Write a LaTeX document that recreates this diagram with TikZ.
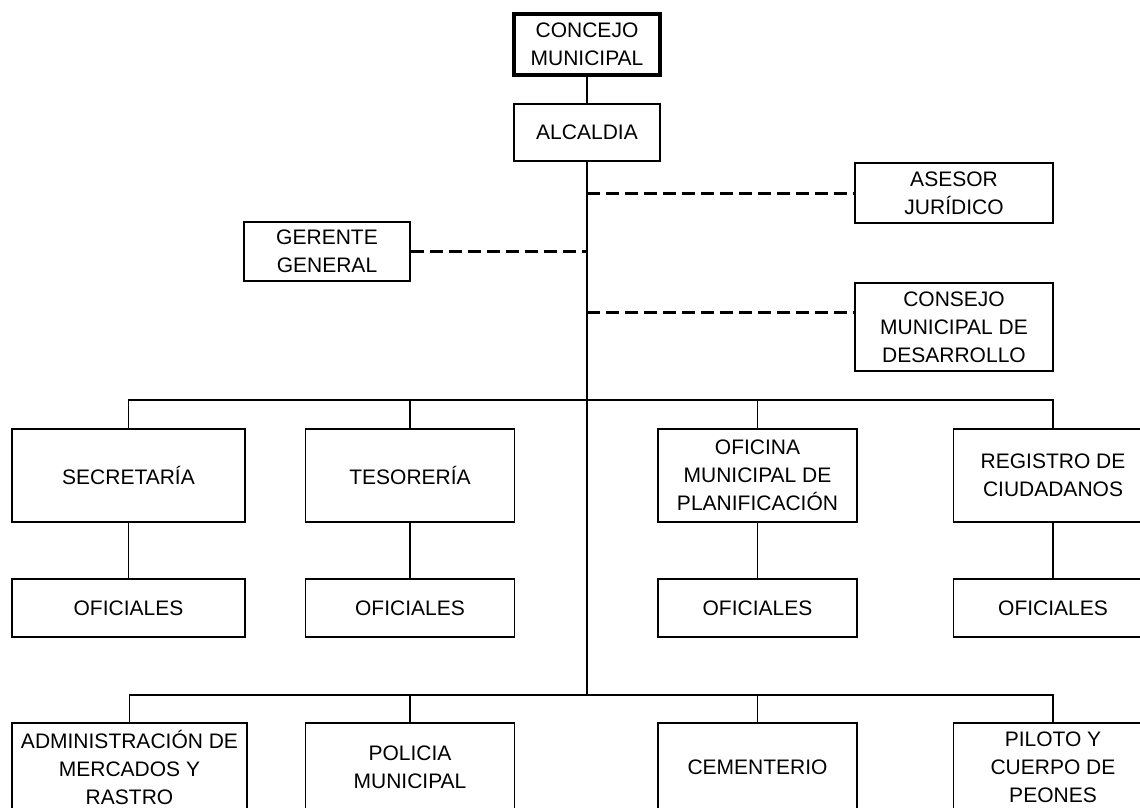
\documentclass[tikz,border=0pt]{standalone}
\usepackage{fontspec}
\setmainfont{Liberation Sans}
\usetikzlibrary{calc}

\begin{document}
\begin{tikzpicture}[x=1pt,y=-1pt,
	caja/.style={draw, line width=1.6pt, inner sep=0pt, align=center, font=\fontsize{21}{28}\selectfont},
	rama/.style={line width=1.6pt},
	asesoria/.style={line width=3pt, dash pattern=on 13pt off 6pt}]
	\pgfmathsetmacro{\eje}{587}			%x of the main trunk
	\pgfmathsetmacro{\colA}{128.5}		%columns of the departments
	\pgfmathsetmacro{\colB}{410}
	\pgfmathsetmacro{\colC}{757.5}
	\pgfmathsetmacro{\colD}{1053}
	\pgfmathsetmacro{\filaA}{475.5}		%rows
	\pgfmathsetmacro{\filaB}{608}
	\pgfmathsetmacro{\filaC}{767.5}

	\useasboundingbox (0,0) rectangle (1140,808);
	\clip (0,0) rectangle (1140,808);

	%top
	\node[caja, line width=3.5pt, minimum width=146pt, minimum height=61pt] (concejo) at (\eje,44.5) {CONCEJO\\MUNICIPAL};
	\node[caja, minimum width=146pt, minimum height=57pt] (alcaldia) at (\eje,132.5) {ALCALDIA};
	\node[caja, minimum width=198pt, minimum height=60pt] (asesor) at (954,193) {ASESOR\\JURÍDICO};
	\node[caja, minimum width=166pt, minimum height=59pt] (gerente) at (327,251.5) {GERENTE\\GENERAL};
	\node[caja, minimum width=198pt, minimum height=88pt] (consejo) at (954,327) {CONSEJO\\MUNICIPAL DE\\DESARROLLO};

	%departments
	\node[caja, minimum width=233pt, minimum height=93pt] (secretaria) at (\colA,\filaA) {SECRETARÍA};
	\node[caja, minimum width=209pt, minimum height=93pt] (tesoreria) at (\colB,\filaA) {TESORERÍA};
	\node[caja, minimum width=199pt, minimum height=93pt] (oficina) at (\colC,\filaA) {OFICINA\\MUNICIPAL DE\\PLANIFICACIÓN};
	\node[caja, minimum width=199pt, minimum height=93pt] (registro) at (\colD,\filaA) {REGISTRO DE\\CIUDADANOS};

	%oficiales
	\node[caja, minimum width=233pt, minimum height=58pt] (ofsecretaria) at (\colA,\filaB) {OFICIALES};
	\node[caja, minimum width=209pt, minimum height=58pt] (oftesoreria) at (\colB,\filaB) {OFICIALES};
	\node[caja, minimum width=199pt, minimum height=58pt] (ofoficina) at (\colC,\filaB) {OFICIALES};
	\node[caja, minimum width=199pt, minimum height=58pt] (ofregistro) at (\colD,\filaB) {OFICIALES};

	%services
	\node[caja, minimum width=235pt, minimum height=89pt] (mercados) at (129.5,\filaC) {ADMINISTRACIÓN DE\\MERCADOS Y\\RASTRO};
	\node[caja, minimum width=209pt, minimum height=89pt] (policia) at (\colB,\filaC) {POLICIA\\MUNICIPAL};
	\node[caja, minimum width=199pt, minimum height=89pt] (cementerio) at (\colC,\filaC) {CEMENTERIO};
	\node[caja, minimum width=199pt, minimum height=89pt] (piloto) at (\colD,\filaC) {PILOTO Y\\CUERPO DE\\PEONES};

	\coordinate (barraA) at (\eje,400);
	\coordinate (barraC) at (\eje,695);
	\coordinate (desarrollo) at ($(consejo.north west)+(0,30)$);

	%trunk
	\draw[rama] (concejo.south) -- (alcaldia.north);
	\draw[rama] (alcaldia.south) -- (barraC);

	%advisers
	\draw[asesoria] (asesor.west -| barraA) -- (asesor.west);
	\draw[asesoria] (gerente.east) -- (gerente.east -| barraA);
	\draw[asesoria] (desarrollo -| barraA) -- (desarrollo);

	%branches
	\draw[rama] (secretaria.north) |- (barraA) -| (registro.north);
	\draw[rama] (mercados.north) |- (barraC) -| (piloto.north);
	\foreach \n in {tesoreria,oficina}
		\draw[rama] (\n.north) -- (\n.north |- barraA);
	\foreach \n in {policia,cementerio}
		\draw[rama] (\n.north) -- (\n.north |- barraC);
	\foreach \n in {secretaria,tesoreria,oficina,registro}
		\draw[rama] (\n.south) -- (of\n.north);

\end{tikzpicture}
\end{document}
